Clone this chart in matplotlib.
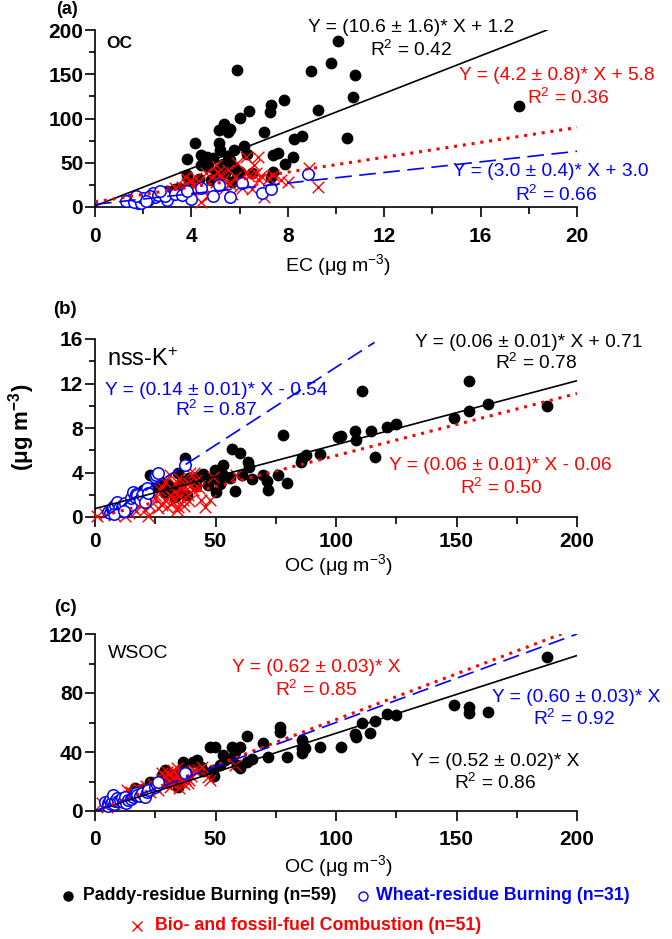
import matplotlib
matplotlib.use('Agg')
import matplotlib.pyplot as plt
from matplotlib.lines import Line2D
import numpy as np

plt.rcParams['font.family'] = ['Liberation Sans', 'DejaVu Sans']
plt.rcParams['mathtext.fontset'] = 'custom'
plt.rcParams['mathtext.rm'] = 'Liberation Sans'
plt.rcParams['mathtext.bf'] = 'Liberation Sans:bold'
plt.rcParams['mathtext.default'] = 'regular'

# ---------------- DATA ----------------
# Panel (a): OC vs EC
a_paddy_ec = [5.9, 6.4, 6.0, 7.3, 7.25, 7.85, 8.95, 9.8, 10.1, 9.25, 7.0, 8.25, 8.6, 8.2, 7.9,
              7.6, 7.4, 7.4, 7.3, 6.2, 6.3, 5.15, 5.35, 5.6, 5.15, 5.2, 4.4, 4.65, 4.15, 3.8,
              4.4, 5.3, 5.6, 5.75, 5.75, 5.9, 3.8, 10.8, 10.7, 10.45, 17.6, 5.5, 4.9, 5.0, 5.4,
              4.8, 5.7, 3.9, 3.5, 3.0, 2.8, 3.3, 4.3, 5.1, 6.0, 4.7, 5.5, 6.5, 2.5]
a_paddy_oc = [155, 108, 101, 115, 107, 121, 154, 163, 188, 110, 85, 77, 80, 57, 49,
              61, 59, 40, 34, 69, 60, 87, 94, 88, 72, 64, 59, 57, 72, 54,
              47, 49, 53, 64, 45, 34, 36, 149, 124, 78, 114, 85, 55, 40, 38,
              30, 28, 28, 22, 18, 17, 20, 32, 33, 40, 46, 58, 38, 15]
a_wheat_ec = [1.45, 1.75, 1.8, 1.95, 2.2, 2.4, 2.5, 2.85, 3.0, 4.0, 4.4, 4.9, 5.15, 5.6, 6.1,
              6.95, 7.3, 8.85, 1.3, 1.6, 1.9, 2.0, 2.3, 2.6, 2.9, 3.3, 3.6, 1.7, 2.1, 2.7, 3.8]
a_wheat_oc = [8, 10, 4.5, 9, 8, 16, 11, 16, 8, 9, 22, 12, 25, 11, 27,
              16, 20, 37, 7, 6, 5, 10, 12, 14, 12, 15, 14, 12, 7, 18, 18]
a_bio_ec = [2.8, 3.0, 3.2, 3.3, 3.5, 3.6, 3.7, 3.75, 3.8, 3.9, 4.0, 4.0, 4.1, 4.2, 4.3, 4.4,
            4.5, 4.6, 4.8, 4.9, 5.0, 5.0, 5.1, 5.2, 5.3, 5.4, 5.5, 5.6, 5.7, 5.8, 5.9, 6.0,
            6.1, 6.25, 6.3, 6.4, 6.5, 6.6, 6.7, 6.75, 6.8, 6.9, 7.0, 7.2, 7.4, 7.7, 8.0,
            8.9, 9.25, 3.4, 4.7]
a_bio_oc = [16, 14, 18, 21, 19, 23, 17, 34, 26, 22, 30, 20, 25, 33, 28, 6,
            20, 38, 15, 35, 47, 28, 40, 36, 30, 22, 42, 26, 15, 34, 50, 30,
            22, 57, 40, 35, 20, 47, 38, 57, 30, 35, 11, 33, 36, 30, 28,
            44, 23, 12, 12]

# Panel (b): nss-K+ vs OC
b_paddy_oc = [110.6, 155, 155, 149, 163, 187.6, 102, 108, 108.5, 114.7, 116, 121, 125, 93.5, 87.6,
              86, 85.6, 78, 56.7, 60, 63.5, 37.3, 22.8, 34.5, 41.4, 48.5, 49.7, 53, 53, 58,
              61, 69.6, 71.3, 71.6, 75.8, 79.5, 29, 31.9, 36, 16.6, 27, 50, 45, 56, 33,
              38, 25, 43, 65, 100.8, 18, 20, 39, 52, 47, 35, 42, 64, 30]
b_paddy_k = [11.35, 12.25, 9.5, 8.9, 10.2, 10.0, 7.3, 7.75, 6.9, 7.7, 5.4, 8.1, 8.4, 5.7, 5.6,
             5.3, 4.9, 7.4, 6.1, 5.75, 4.9, 5.3, 3.8, 4.0, 3.1, 3.5, 4.2, 4.7, 3.8, 2.3,
             3.8, 3.8, 3.2, 2.4, 3.8, 3.1, 2.2, 2.6, 3.2, 1.7, 3.2, 2.25, 3.9, 3.5, 1.8,
             2.0, 2.8, 3.6, 3.4, 7.2, 2.0, 2.4, 3.5, 3.0, 2.9, 2.5, 2.8, 4.5, 3.0]
b_wheat_oc = [5.5, 6.2, 7.0, 7.5, 7.5, 8.3, 9.0, 9.5, 10, 11, 11.6, 12.4, 13, 13.8, 15, 15,
              15.7, 16.5, 17, 17.4, 18.5, 19.3, 20.7, 21.4, 22, 24.8, 25.5, 26.2, 37.3, 8, 12]
b_wheat_k = [0.45, 0.35, 0.7, 0.6, 0.9, 1.1, 1.35, 0.5, 0.8, 0.9, 1.1, 1.25, 0.6, 0.8, 1.1, 1.7,
             2.25, 1.8, 2.1, 2.0, 1.5, 2.0, 1.35, 2.6, 2.2, 3.6, 3.8, 3.95, 4.7, 0.3, 0.5]
b_bio_oc = [0.8, 4, 8, 10, 12.4, 14, 15.3, 17, 19.5, 20.7, 22, 23, 24.8, 26, 27, 27.7, 29, 29,
            30, 31, 32, 32.3, 33, 34, 34.4, 35, 36, 36.4, 37.3, 38.5, 38.5, 39.3, 40.6, 41, 42,
            44, 45.5, 47.6, 49, 58.7, 25, 28, 31, 33, 35, 37, 39, 40, 43, 18, 21]
b_bio_k = [0.05, 0.3, 0.2, 0.6, 0.05, 0.4, 0.9, 0.5, 1.25, 0.6, 0.05, 1.0, 1.7, 0.8, 2.4, 2.7, 1.5, 3.15,
           0.9, 3.8, 1.25, 1.7, 2.25, 0.6, 0.9, 1.9, 2.7, 1.5, 2.7, 2.0, 3.1, 3.95, 2.4, 4.0, 3.3,
           1.5, 0.9, 1.5, 3.6, 3.8, 2.0, 1.1, 2.0, 3.0, 3.5, 1.0, 1.4, 2.9, 2.6, 1.6, 1.9]

# Panel (c): WSOC vs OC
c_paddy_oc = [187.6, 149, 155, 155, 163, 121, 125, 110.6, 116, 108, 108.5, 114, 102, 93.5, 87,
              76.6, 76.6, 63, 69.6, 71.6, 79.5, 85.7, 86, 85.7, 56.7, 60, 63, 58.8, 53, 53.8,
              47.6, 49.7, 42.2, 40.6, 36.4, 36.4, 34.4, 49, 49.5, 29, 27.7, 22.8, 16.6, 35, 60,
              58, 65, 44, 38, 31, 25, 18, 33, 52, 45, 57, 20, 30, 14]
c_paddy_wsoc = [104.4, 71.9, 70.7, 66.7, 67, 65.7, 65, 59.6, 61, 52.3, 50.2, 52.8, 43.4, 43.4, 42.7,
                57, 53.5, 50.8, 46, 36.6, 36.6, 48, 42.7, 39.3, 43.4, 43.4, 33, 31, 38, 34.5,
                43.4, 43.4, 34.5, 33, 33, 29, 16.3, 27.8, 24, 27.8, 24.4, 19.7, 15.6, 21, 29,
                40, 35, 30, 26, 22, 18, 13, 25, 31, 27, 36, 15, 20, 11]
c_wheat_oc = [4.1, 5.4, 5.5, 6.2, 6.5, 7.0, 7.5, 8, 8.3, 9, 9.5, 10.4, 11, 11.6, 12.4, 13,
              13.7, 15, 15.7, 16.6, 17, 17.4, 18.5, 19.3, 20.7, 21.4, 22, 24.8, 25.7, 26.2, 37.3]
c_wheat_wsoc = [6.1, 5.4, 3.5, 7.5, 4.5, 6.0, 10.8, 5, 7, 8.8, 6.5, 7.5, 9, 6.1, 9.5, 5.5,
                7.5, 8, 9.5, 10.8, 12, 11, 10, 12, 9.5, 13, 14.2, 16, 17.6, 19.7, 25.8]
c_bio_oc = [2.9, 5, 8, 10, 12, 13.2, 14, 16, 17.8, 19, 20, 22, 24, 25, 26, 27.7, 28, 29, 29.5,
            30, 30.5, 31, 32, 32.3, 33, 33.5, 34.4, 35, 35.5, 36, 36.5, 37, 37.5, 38, 38.5, 39,
            40, 41, 42.6, 44.3, 46.8, 47.6, 58, 23, 21, 18, 11, 15, 26, 31, 34]
c_bio_wsoc = [5.4, 3, 5, 7, 9, 14.2, 10, 12, 15.6, 12, 14, 15, 18, 16, 20, 25.8, 22, 23, 18,
              26.4, 20, 24, 19, 27.8, 22, 25, 23, 15.6, 20, 27, 24, 18, 22, 26, 19, 21,
              24, 28, 27.8, 30, 23, 21, 31, 13, 17, 11, 6, 13, 14, 16, 29]

# regression lines as drawn (slope, intercept, x range)
a_fit = {'paddy': (10.6, 1.2, 0, 18.75), 'bio': (4.2, 5.8, 0, 20), 'wheat': (3.0, 3.0, 0, 20)}
b_fit = {'paddy': (0.0575, 0.75, 0, 200), 'bio': (0.0558, -0.06, 0, 200), 'wheat': (0.14, -0.54, 3.9, 116)}
c_fit = {'paddy': (0.527, 0.0, 0, 200), 'bio': (0.62, 0.0, 0, 193.5), 'wheat': (0.60, 0.0, 0, 200)}

legend_labels = ['Paddy-residue Burning (n=59)', 'Wheat-residue Burning (n=31)',
                 'Bio- and fossil-fuel Combustion (n=51)']

BLACK, BLUE, RED = '#000000', '#0000FF', '#FF0000'

# ---------------- FIGURE ----------------
W, H = 672, 939
fig = plt.figure(figsize=(W / 100, H / 100), dpi=100)


def fx(px):
    return px / W


def fy(py):
    return 1 - py / H


def make_axes(top, bottom):
    return fig.add_axes([fx(95), fy(bottom), fx(577) - fx(95), fy(top) - fy(bottom)])


def style(ax, xlim, ylim, xmaj, xmin, ymaj, ymin, xpad):
    ax.set_xlim(xlim)
    ax.set_ylim(ylim)
    for s in ['top', 'right']:
        ax.spines[s].set_visible(False)
    for s in ['left', 'bottom']:
        ax.spines[s].set_linewidth(1.2)
    ax.set_xticks(xmaj)
    ax.set_xticklabels([str(v) for v in xmaj], fontweight='bold', fontsize=15)
    ax.set_xticks(xmin, minor=True)
    ax.set_yticks(ymaj)
    ax.set_yticklabels([str(v) for v in ymaj], fontweight='bold', fontsize=15)
    ax.set_yticks(ymin, minor=True)
    ax.tick_params(axis='x', which='major', direction='out', length=7.5, width=1.2, pad=xpad)
    ax.tick_params(axis='x', which='minor', direction='out', length=5, width=1.2)
    ax.tick_params(axis='y', which='major', direction='out', length=7, width=1.2, pad=1.5)
    ax.tick_params(axis='y', which='minor', direction='out', length=4, width=1.2)
    ax.set_facecolor('none')


def draw(ax, paddy, wheat, bio, fits):
    ax.scatter(*paddy, s=72, c=BLACK, marker='o', linewidths=0, zorder=2, clip_on=False)
    ax.scatter(*bio, s=70, c=RED, marker='x', linewidths=1.0, zorder=3, clip_on=False)
    ax.scatter(*wheat, s=68, facecolors='white', edgecolors=BLUE, marker='o', linewidths=1.1,
               zorder=4, clip_on=False)
    styles = {'paddy': dict(color=BLACK, lw=1.2, ls='-'),
              'bio': dict(color=RED, lw=2.2, ls=(0, (1, 1.9))),
              'wheat': dict(color=BLUE, lw=1.2, ls=(0, (10, 4.5)))}
    for key in ['paddy', 'bio', 'wheat']:
        m, b, x0, x1 = fits[key]
        xs = np.array([x0, x1])
        ax.plot(xs, m * xs + b, zorder=5, **styles[key])


def ftext(px, py, s, **kw):
    kw.setdefault('ha', 'center')
    kw.setdefault('va', 'center')
    fig.text(fx(px), fy(py), s, **kw)


EQ = 13.8

# ---- (a)
ax_a = make_axes(30, 207)
style(ax_a, (0, 20), (0, 200), [0, 4, 8, 12, 16, 20], [2, 6, 10, 14, 18],
      [0, 50, 100, 150, 200], [25, 75, 125, 175], 7)
draw(ax_a, (a_paddy_ec, a_paddy_oc), (a_wheat_ec, a_wheat_oc), (a_bio_ec, a_bio_oc), a_fit)
ftext(67, 9, '(a)', fontweight='bold', fontsize=13)
ftext(119, 44, 'OC', fontweight='bold', fontsize=12.5)
ftext(411, 27, 'Y = (10.6 ± 1.6)* X + 1.2', fontsize=EQ, color=BLACK)
ftext(411, 50, 'R$^{2}$ = 0.42', fontsize=EQ, color=BLACK)
ftext(557, 76, 'Y = (4.2 ± 0.8)* X + 5.8', fontsize=EQ, color=RED)
ftext(568, 98, 'R$^{2}$ = 0.36', fontsize=EQ, color=RED)
ftext(551, 172, 'Y = (3.0 ± 0.4)* X + 3.0', fontsize=EQ, color=BLUE)
ftext(556, 195, 'R$^{2}$ = 0.66', fontsize=EQ, color=BLUE)
ftext(338, 265, 'EC (μg m$^{-3}$)', fontsize=14)

# ---- (b)
ax_b = make_axes(339, 517)
style(ax_b, (0, 200), (0, 16), [0, 50, 100, 150, 200], [25, 75, 125, 175],
      [0, 4, 8, 12, 16], [2, 6, 10, 14], 3.5)
draw(ax_b, (b_paddy_oc, b_paddy_k), (b_wheat_oc, b_wheat_k), (b_bio_oc, b_bio_k), b_fit)
ftext(65, 310, '(b)', fontweight='bold', fontsize=13.5)
ftext(143, 360, 'nss-K$^{+}$', fontsize=17)
ftext(216, 390, 'Y = (0.14 ± 0.01)* X - 0.54', fontsize=EQ, color=BLUE)
ftext(216, 410, 'R$^{2}$ = 0.87', fontsize=EQ, color=BLUE)
ftext(529, 342, 'Y = (0.06 ± 0.01)* X + 0.71', fontsize=EQ, color=BLACK)
ftext(536, 363, 'R$^{2}$ = 0.78', fontsize=EQ, color=BLACK)
ftext(500, 465, 'Y = (0.06 ± 0.01)* X - 0.06', fontsize=EQ, color=RED)
ftext(501, 488, 'R$^{2}$ = 0.50', fontsize=EQ, color=RED)
ftext(338, 565, 'OC (μg m$^{-3}$)', fontsize=14)
ftext(22, 427, '(μg m$^{-3}$)', fontsize=16, fontweight='bold', rotation=90)

# ---- (c)
ax_c = make_axes(634, 811)
style(ax_c, (0, 200), (0, 120), [0, 50, 100, 150, 200], [25, 75, 125, 175],
      [0, 40, 80, 120], [20, 60, 100], 6.5)
draw(ax_c, (c_paddy_oc, c_paddy_wsoc), (c_wheat_oc, c_wheat_wsoc), (c_bio_oc, c_bio_wsoc), c_fit)
ftext(65, 608, '(c)', fontweight='bold', fontsize=13.5)
ftext(138, 653, 'WSOC', fontsize=14)
ftext(316, 668, 'Y = (0.62 ± 0.03)* X', fontsize=EQ, color=RED)
ftext(316, 690, 'R$^{2}$ = 0.85', fontsize=EQ, color=RED)
ftext(576, 697, 'Y = (0.60 ± 0.03)* X', fontsize=EQ, color=BLUE)
ftext(574, 719, 'R$^{2}$ = 0.92', fontsize=EQ, color=BLUE)
ftext(495, 762, 'Y = (0.52 ± 0.02)* X', fontsize=EQ, color=BLACK)
ftext(495, 783, 'R$^{2}$ = 0.86', fontsize=EQ, color=BLACK)
ftext(338, 866, 'OC (μg m$^{-3}$)', fontsize=14)

# ---- legend
leg_items = [(68, 896, 83, 'o', BLACK, BLACK, legend_labels[0]),
             (363, 896, 376, 'o', 'none', BLUE, legend_labels[1]),
             (137, 926, 155, 'x', RED, RED, legend_labels[2])]
for mx, my, tx, mk, fc, ec, lab in leg_items:
    fig.add_artist(Line2D([fx(mx)], [fy(my)], transform=fig.transFigure, marker=mk,
                          markersize=6.5, markerfacecolor=fc, markeredgecolor=ec,
                          markeredgewidth=1.0, linestyle='none'))
    ftext(tx, my, lab, ha='left', fontsize=12.8, fontweight='bold', color=ec)

fig.savefig('out.png', dpi=100)
